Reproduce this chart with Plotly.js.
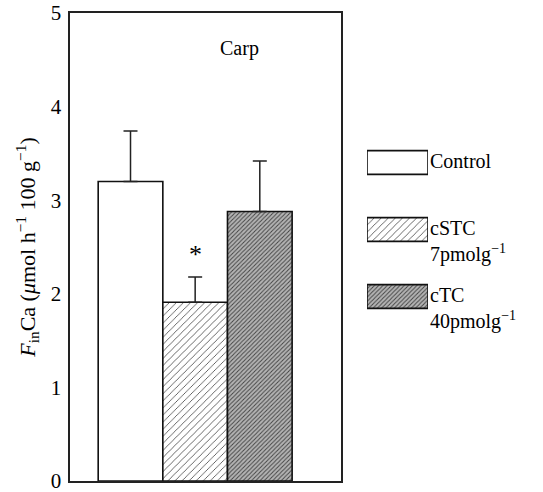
<!DOCTYPE html>
<html>
<head>
<meta charset="utf-8">
<script src="https://cdn.plot.ly/plotly-3.0.1.min.js"></script>
<style>html,body{margin:0;padding:0;background:#fff}#chart{width:543px;height:492px}</style>
</head>
<body>
<div id="chart"></div>
<script>
// ---- data ----
const groups = ["Control", "cSTC", "cTC"];
const groupPos = [0, 1, 2];
const means = [3.20, 1.91, 2.88];
const errUp = [0.54, 0.27, 0.54];
const legendLabels = ["Control", "cSTC<br>7pmolg<sup>\u22121</sup>", "cTC<br>40pmolg<sup>\u22121</sup>"];
const legendRows = [0, 1, 2];
const legendLen = [1, 1, 1];
const starGroup = 1;
const starY = 2.42;
const yTicks = [0, 1, 2, 3, 4, 5];

// ---- styles ----
const fills = ["#ffffff", "#ffffff", "#b4b4b4"];
const patShapes = ["", "/", "/"];
const patFg = ["#000", "#111", "#2a2a2a"];
const patSize = [6, 5, 3];
const patSolid = [0.2, 0.16, 0.33];
const FONT = "Liberation Serif";

const markerStyle = {
  color: fills,
  line: {color: "#111", width: 1.6},
  pattern: {shape: patShapes, fgcolor: patFg, fgopacity: 1, size: patSize, solidity: patSolid, fillmode: "overlay"}
};

const traces = [
  {
    type: "bar", x: groupPos, y: means, width: 1, name: "bars",
    marker: markerStyle,
    error_y: {type: "data", symmetric: false, array: errUp, arrayminus: [0,0,0], color: "#222", thickness: 1.5, width: 7},
    showlegend: false, hoverinfo: "skip"
  },
  {
    type: "bar", orientation: "h", x: legendLen, y: legendRows, width: 0.355,
    xaxis: "x2", yaxis: "y2", marker: markerStyle, showlegend: false, hoverinfo: "skip"
  }
];

const annotations = [
  {xref: "x domain", yref: "y domain", x: 0.705, y: 0.953, text: "Carp", showarrow: false,
   font: {family: FONT, size: 20, color: "#000"}},
  {xref: "x", yref: "y", x: starGroup, y: starY, text: "*", showarrow: false, yanchor: "middle",
   font: {family: FONT, size: 26, color: "#000"}}
];
legendRows.forEach((r, i) => {
  annotations.push({
    xref: "x2", yref: "y2", x: 1, y: r - 0.22, text: legendLabels[i], showarrow: false,
    xanchor: "left", yanchor: "top", align: "left", xshift: 0,
    font: {family: FONT, size: 20, color: "#000"}
  });
});

const layout = {
  width: 543, height: 492,
  margin: {l: 70, r: 10, t: 13, b: 11},
  paper_bgcolor: "#fff", plot_bgcolor: "#fff",
  showlegend: false,
  font: {family: FONT, color: "#000"},
  xaxis: {
    domain: [0, 271/463], range: [-0.936, 3.256], showticklabels: false, ticks: "",
    showgrid: false, zeroline: false, showline: true, mirror: true, linecolor: "#222", linewidth: 1.6
  },
  yaxis: {
    range: [0, 5], tickvals: yTicks, ticks: "", showgrid: false, zeroline: false,
    showline: true, mirror: true, linecolor: "#222", linewidth: 1.6, ticklabeloverflow: "allow",
    tickfont: {family: FONT, size: 21, color: "#000"}, ticklabelstandoff: 3,
    title: {text: "<i>F</i><sub>in</sub>Ca (<i>\u03bc</i>mol h<sup>\u22121</sup> 100 g<sup>\u22121</sup>)",
            font: {family: FONT, size: 22, color: "#000"}, standoff: 9}
  },
  xaxis2: {domain: [297/463, 358/463], range: [0, 1], visible: false, anchor: "y2"},
  yaxis2: {domain: [0, 1], range: [4.754, -2.231], visible: false, anchor: "x2"},
  annotations: annotations
};

Plotly.newPlot("chart", traces, layout, {staticPlot: true, displayModeBar: false});
</script>
</body>
</html>
